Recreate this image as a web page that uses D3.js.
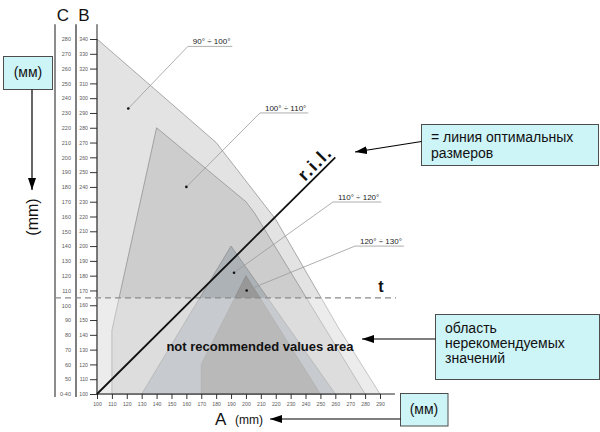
<!DOCTYPE html>
<html>
<head>
<meta charset="utf-8">
<script src="https://cdn.jsdelivr.net/npm/d3@7"></script>
<style>
  body { margin: 0; background: #fff; }
  svg { display: block; font-family: "Liberation Sans", Arial, sans-serif; }
</style>
</head>
<body>
<svg id="chart" width="600" height="432"></svg>
<script>
// ---- Axis ticks ----
const aTicks = [100,110,120,130,140,150,160,170,180,190,200,210,220,230,240,250,260,270,280,290];
const bTicks = [100,110,120,130,140,150,160,170,180,190,200,210,220,230,240,250,260,270,280,290,300,310,320,330,340];
const cLabels = ["0-40","50","60","70","80","90","100","110","120","130","140","150","160","170","180","190","200","210","220","230","240","250","260","270","280"];

// ---- Angle zones, outline vertices as [A, B] in mm ----
const zone90_100  = [[100,100],[100,340],[180,270],[220,218],[262,145],[290,100]];
const zone100_110 = [[110,100],[110,143],[140,280],[200,230],[206,222],[280,100]];
const zone110_120 = [[130,100],[190,200],[260,100]];
const zone120_130 = [[170,100],[170,120],[200,180],[250,100]];
const zoneNames   = ["90° ÷ 100°", "100° ÷ 110°", "110° ÷ 120°", "120° ÷ 130°"];
// marker dot of each zone and the elbow of its callout, [A, B]
const zoneDots    = [[121,293],[160,240],[192,182],[200.5,170]];
const zoneElbows  = [[161,335],[209.4,290],[258.4,229.8],[273.2,200]];

// threshold t (B, mm) and the optimal sizes line r.i.l.
const thresholdB = 165;
const rilLine = [[100,100],[260,260]];

const zones = [zone90_100, zone100_110, zone110_120, zone120_130];
const zoneFills = ["#e3e3e3", "#cdcdcd", "#adb2b7", "#989898"];

const svg = d3.select("#chart");
const x = d3.scaleLinear().domain([100, 290]).range([97, 380]);
const y = d3.scaleLinear().domain([100, 340]).range([394, 39]);

// arrow head
const defs = svg.append("defs");
defs.append("marker")
  .attr("id", "arrow").attr("viewBox", "0 0 12 8")
  .attr("refX", 12).attr("refY", 4)
  .attr("markerWidth", 12).attr("markerHeight", 8)
  .attr("markerUnits", "userSpaceOnUse").attr("orient", "auto")
  .append("path").attr("d", "M0,0L12,4L0,8Z").attr("fill", "#000");

// ---- zones ----
const line = d3.line().x(d => x(d[0])).y(d => y(d[1]));
svg.append("g").selectAll("path").data(zones).join("path")
  .attr("d", d => line(d) + "Z")
  .attr("fill", (d, i) => zoneFills[i])
  .attr("stroke", "#8a8a8a").attr("stroke-width", 0.7);

// lighter veil over the not recommended area (below t)
svg.append("rect")
  .attr("x", x(100)).attr("y", y(thresholdB))
  .attr("width", x(300) - x(100)).attr("height", y(100) - y(thresholdB))
  .attr("fill", "#fff").attr("opacity", 0.32);

// ---- vertical scale bars C and B ----
svg.append("line").attr("x1", 55).attr("x2", 55).attr("y1", y(350)).attr("y2", 397)
  .attr("stroke", "#8c8c8c").attr("stroke-width", 2);
svg.append("line").attr("x1", 76).attr("x2", 76).attr("y1", y(350)).attr("y2", 397)
  .attr("stroke", "#3a3a3a").attr("stroke-width", 1.3);

// B axis
const bAxis = svg.append("g").attr("transform", `translate(${x(100)},0)`)
  .call(d3.axisLeft(y).tickValues(bTicks).tickSize(7).tickPadding(2));
bAxis.select(".domain").remove();
bAxis.selectAll("line").attr("stroke", "#333");
bAxis.selectAll("text").attr("font-size", 5.2).attr("fill", "#5a5a5a")
  .attr("font-family", "Liberation Sans, Arial, sans-serif");
svg.append("line").attr("x1", x(100)).attr("x2", x(100)).attr("y1", y(350)).attr("y2", y(100))
  .attr("stroke", "#222").attr("stroke-width", 1);

// C labels
const cAxis = svg.append("g").attr("transform", "translate(71,0)")
  .call(d3.axisLeft(y).tickValues(bTicks).tickSize(0).tickPadding(0).tickFormat((d, i) => cLabels[i]));
cAxis.select(".domain").remove();
cAxis.selectAll("text").attr("font-size", 5.5).attr("fill", "#5a5a5a")
  .attr("font-family", "Liberation Sans, Arial, sans-serif");

// A axis
const aAxis = svg.append("g").attr("transform", `translate(0,${y(100)})`)
  .call(d3.axisBottom(x).tickValues(aTicks).tickSize(5).tickPadding(3));
aAxis.select(".domain").remove();
aAxis.selectAll("line").attr("stroke", "#333");
aAxis.selectAll("text").attr("font-size", 5.2).attr("fill", "#5a5a5a")
  .attr("font-family", "Liberation Sans, Arial, sans-serif");
svg.append("line").attr("x1", x(100)).attr("x2", x(300)).attr("y1", y(100)).attr("y2", y(100))
  .attr("stroke", "#222").attr("stroke-width", 1);

svg.append("text").attr("x", 63).attr("y", 21).attr("text-anchor", "middle")
  .attr("font-size", 17).attr("fill", "#111").text("C");
svg.append("text").attr("x", 84).attr("y", 21).attr("text-anchor", "middle")
  .attr("font-size", 17).attr("fill", "#111").text("B");

// ---- threshold t ----
svg.append("line").attr("x1", 55).attr("x2", 396).attr("y1", y(thresholdB)).attr("y2", y(thresholdB))
  .attr("stroke", "#8a8a8a").attr("stroke-width", 1.3).attr("stroke-dasharray", "6,4");
svg.append("text").attr("x", 381).attr("y", 292).attr("text-anchor", "middle")
  .attr("font-size", 16).attr("font-weight", "bold").attr("fill", "#111").text("t");

// ---- r.i.l. ----
svg.append("path").attr("d", line(rilLine)).attr("stroke", "#111").attr("stroke-width", 1.8).attr("fill", "none");
svg.append("text")
  .attr("transform", `translate(${x(251)},${y(251)}) rotate(-45)`)
  .attr("y", -4).attr("text-anchor", "middle").attr("letter-spacing", 1.5)
  .attr("font-size", 18).attr("font-weight", "bold").attr("fill", "#111").text("r.i.l.");

// ---- zone callouts ----
const callouts = svg.append("g");
zoneNames.forEach((name, i) => {
  const [dx, dy] = [x(zoneDots[i][0]), y(zoneDots[i][1])];
  const [ex, ey] = [x(zoneElbows[i][0]), y(zoneElbows[i][1])];
  const t = callouts.append("text").attr("x", ex + 5).attr("y", ey - 2)
    .attr("font-size", 8).attr("fill", "#222").text(name);
  const w = t.node().getComputedTextLength();
  callouts.append("polyline")
    .attr("points", `${dx},${dy} ${ex},${ey} ${ex + w + 7},${ey}`)
    .attr("fill", "none").attr("stroke", "#9a9a9a").attr("stroke-width", 0.8);
  callouts.append("circle").attr("cx", dx).attr("cy", dy).attr("r", 1.3).attr("fill", "#111");
});

svg.append("text").attr("x", 260).attr("y", 351).attr("text-anchor", "middle")
  .attr("font-size", 13).attr("font-weight", "bold").attr("fill", "#111")
  .text("not recommended values area");

// ---- axis titles ----
svg.append("text").attr("x", 215).attr("y", 425).attr("font-size", 17).attr("fill", "#111").text("A");
svg.append("text").attr("x", 235).attr("y", 424).attr("font-size", 12).attr("fill", "#111").text("(mm)");
svg.append("text").attr("transform", "translate(38,217) rotate(-90)").attr("text-anchor", "middle")
  .attr("font-size", 16).attr("fill", "#111").text("(mm)");

// ---- note boxes ----
const boxFill = "#cdf4f7", boxStroke = "#4d4d4d";
function box(x0, y0, w, h) {
  svg.append("rect").attr("x", x0).attr("y", y0).attr("width", w).attr("height", h)
    .attr("fill", boxFill).attr("stroke", boxStroke).attr("stroke-width", 1);
}
function arrow(x1, y1, x2, y2) {
  svg.append("line").attr("x1", x1).attr("y1", y1).attr("x2", x2).attr("y2", y2)
    .attr("stroke", "#000").attr("stroke-width", 1.2).attr("marker-end", "url(#arrow)");
}
function lines(x0, y0, step, rows) {
  rows.forEach((r, i) => svg.append("text").attr("x", x0).attr("y", y0 + i * step)
    .attr("font-size", 14).attr("fill", "#111").text(r));
}

box(3.5, 56.5, 49, 33);
svg.append("text").attr("x", 28).attr("y", 77).attr("text-anchor", "middle")
  .attr("font-size", 14).attr("fill", "#111").text("(мм)");
arrow(32, 89.5, 32, 190);

box(421.5, 124.5, 177, 41);
lines(431, 142, 16, ["= линия оптимальных", "размеров"]);
arrow(421.5, 141.5, 355, 152);

box(435.5, 314.5, 164, 65);
lines(445, 333, 15, ["область", "нерекомендуемых", "значений"]);
arrow(435.5, 339, 362, 339);

box(400.5, 393.5, 47.5, 32.5);
svg.append("text").attr("x", 424).attr("y", 414).attr("text-anchor", "middle")
  .attr("font-size", 14).attr("fill", "#111").text("(мм)");
arrow(400.5, 419, 270, 419);
</script>
</body>
</html>
